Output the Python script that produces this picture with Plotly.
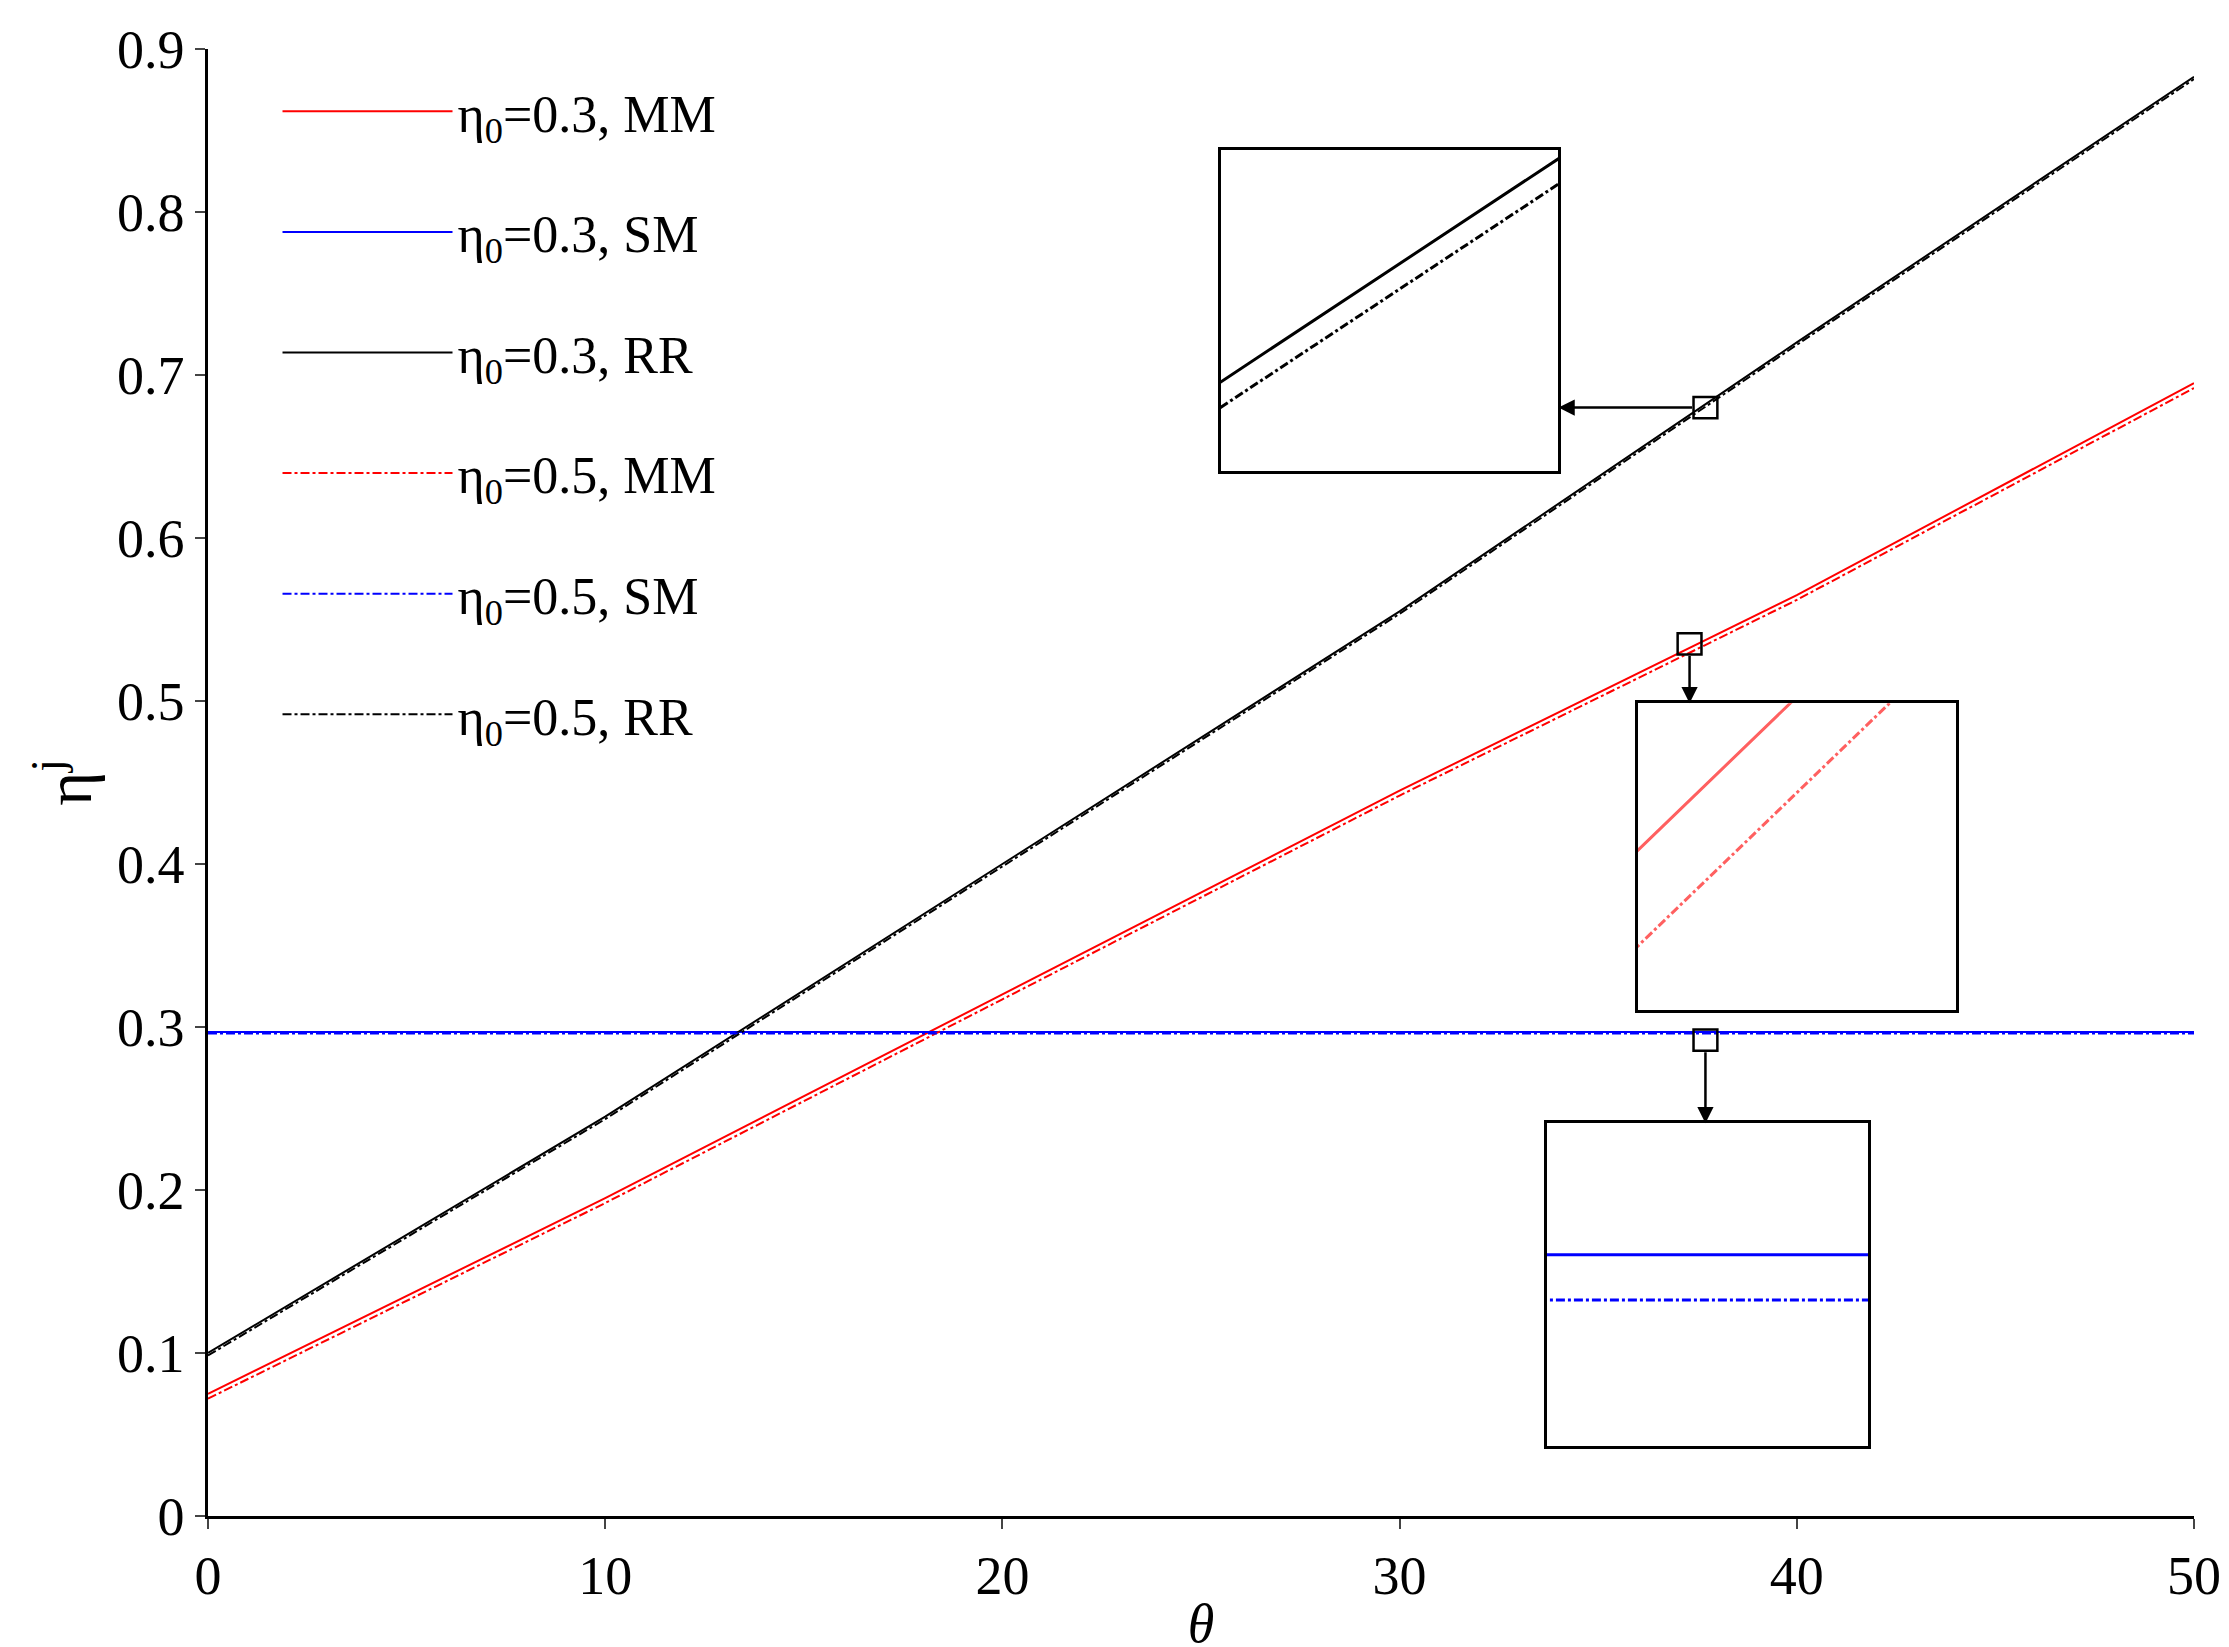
import plotly.graph_objects as go

theta = [0, 10, 20, 30, 40, 50]
rr_03 = [0.100, 0.245, 0.400, 0.555, 0.720, 0.883]
rr_05 = [0.0985, 0.2435, 0.3985, 0.5535, 0.7185, 0.8815]
mm_03 = [0.075, 0.195, 0.320, 0.445, 0.565, 0.695]
mm_05 = [0.072, 0.192, 0.317, 0.442, 0.562, 0.692]
sm_03 = [0.297, 0.297, 0.297, 0.297, 0.297, 0.297]
sm_05 = [0.296, 0.296, 0.296, 0.296, 0.296, 0.296]
names = ["η<sub>0</sub>=0.3, MM", "η<sub>0</sub>=0.3, SM", "η<sub>0</sub>=0.3, RR",
         "η<sub>0</sub>=0.5, MM", "η<sub>0</sub>=0.5, SM", "η<sub>0</sub>=0.5, RR"]
ytick_vals = [0, 0.1, 0.2, 0.3, 0.4, 0.5, 0.6, 0.7, 0.8, 0.9]
ytick_text = ["0", "0.1", "0.2", "0.3", "0.4", "0.5", "0.6", "0.7", "0.8", "0.9"]

RED, BLUE, BLACK = "#ff0000", "#0000ff", "#000000"
series = [(mm_03, RED, "solid"), (sm_03, BLUE, "solid"), (rr_03, BLACK, "solid"),
          (mm_05, RED, "dashdot"), (sm_05, BLUE, "dashdot"), (rr_05, BLACK, "dashdot")]

fig = go.Figure()
for i, ((ys, c, d), n) in enumerate(zip(series, names)):
    fig.add_trace(go.Scatter(x=theta, y=ys, mode="lines", name=n, legendgroup=str(i),
                             line=dict(color=c, dash=d, width=2)))

insets = [
    ("2", [(rr_03, BLACK, "solid"), (rr_05, BLACK, "dashdot")], [0.510, 0.680], [0.712, 0.931], [37.2, 38.0], [0.6685, 0.6875]),
    ("3", [(mm_03, "#ff6060", "solid"), (mm_05, "#ff6060", "dashdot")], [0.720, 0.880], [0.345, 0.554], [36.9, 37.7], [0.5228, 0.5324]),
    ("4", [(sm_03, BLUE, "solid"), (sm_05, BLUE, "dashdot")], [0.674, 0.836], [0.048, 0.268], [37.3, 38.1], [0.2928, 0.2999]),
]
ax = dict(showticklabels=False, ticks="", showgrid=False, zeroline=False,
          showline=True, mirror=True, linecolor="black", linewidth=3)
for k, tr, dx, dy, xr, yr in insets:
    for ys, c, d in tr:
        fig.add_trace(go.Scatter(x=theta, y=ys, mode="lines", showlegend=False,
                                 xaxis="x" + k, yaxis="y" + k,
                                 line=dict(color=c, dash=d, width=3)))
    fig.update_layout(**{
        "xaxis" + k: dict(domain=dx, range=xr, anchor="y" + k, **ax),
        "yaxis" + k: dict(domain=dy, range=yr, anchor="x" + k, **ax),
    })

marks = [(37.7, 0.680, 34.0, 0.680), (37.3, 0.535, 37.3, 0.4986), (37.7, 0.292, 37.7, 0.241)]
for mx, my, hx, hy in marks:
    fig.add_shape(type="rect", x0=mx - 0.3, x1=mx + 0.3, y0=my - 0.0065, y1=my + 0.0065,
                  xref="x", yref="y", line=dict(color="black", width=2.5), fillcolor="rgba(0,0,0,0)")
    if hx != mx:
        tx, ty = mx - 0.3, my
    else:
        tx, ty = mx, my - 0.0065
    fig.add_annotation(x=hx, y=hy, ax=tx, ay=ty, xref="x", yref="y", axref="x", ayref="y",
                       text="", showarrow=True, arrowhead=2, arrowsize=1.3, arrowwidth=2.5, arrowcolor="black")

font = "Liberation Serif, Times New Roman, serif"
fig.update_layout(
    width=2229, height=1647,
    paper_bgcolor="white", plot_bgcolor="white",
    margin=dict(l=200, r=43, t=40, b=120),
    font=dict(family=font, size=54, color="black"),
    xaxis=dict(range=[0, 50], tickvals=[0, 10, 20, 30, 40, 50], showgrid=False, zeroline=False,
               showline=True, linecolor="black", linewidth=2.5, ticks="outside", ticklen=10,
               tickwidth=2, title=dict(text="<i>θ</i>", standoff=0, font=dict(size=54))),
    yaxis=dict(range=[0, 0.9], tickvals=ytick_vals, ticktext=ytick_text, showgrid=False, zeroline=False,
               showline=True, linecolor="black", linewidth=2.5, ticks="outside", ticklen=10,
               tickwidth=2, title=dict(text="η<sup>j</sup>", standoff=5)),
    legend=dict(x=0.035, y=0.985, xanchor="left", yanchor="top", bgcolor="rgba(0,0,0,0)",
                font=dict(size=52), itemwidth=170, tracegroupgap=50),
    showlegend=True,
)
fig.write_html("out.html")
